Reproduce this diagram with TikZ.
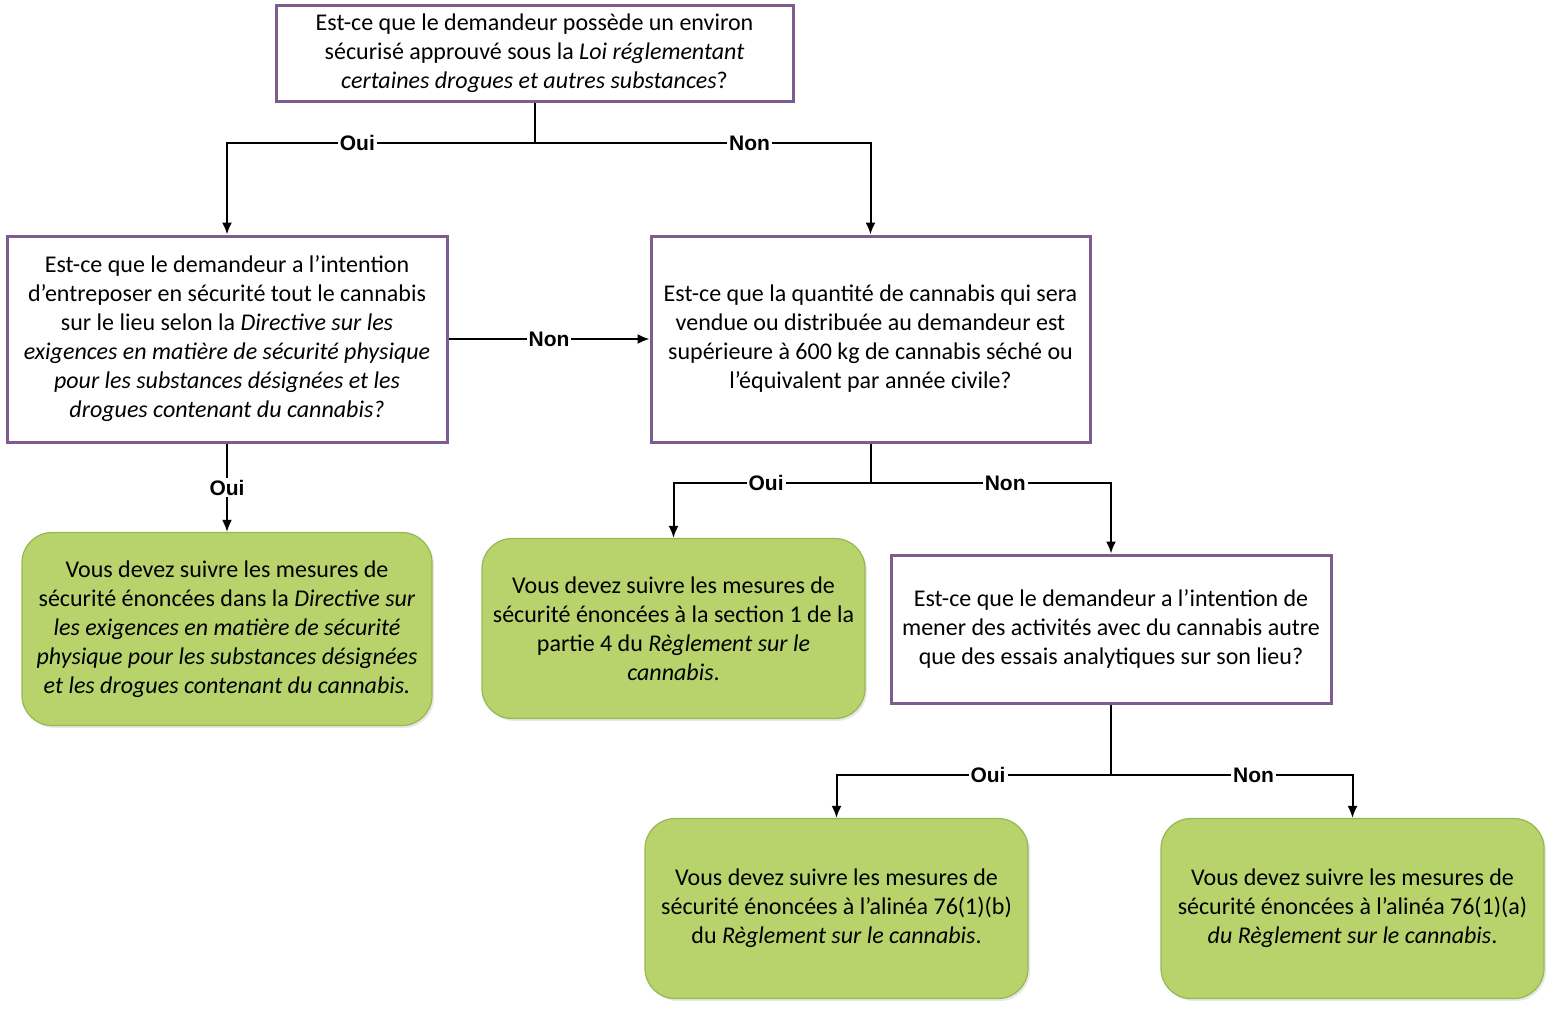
\documentclass[tikz,border=0pt]{standalone}
\usepackage{fontspec}
\setmainfont{Carlito}
\setsansfont{Liberation Sans}
\usetikzlibrary{arrows, arrows.meta, shadows, positioning}
\definecolor{qpurple}{RGB}{126,92,144}
\definecolor{mgreen}{RGB}{184,211,108}
\definecolor{mgreenedge}{RGB}{150,184,82}
\tikzset{
  question/.style={draw=qpurple, line width=1.5pt, fill=white, align=center, inner sep=0pt,
    font=\fontsize{12}{14.5}\selectfont,
    drop shadow={shadow xshift=1pt, shadow yshift=-1.2pt, opacity=0.18}},
  measure/.style={draw=mgreenedge, line width=0.6pt, fill=mgreen, rounded corners=15pt, align=center, inner sep=0pt,
    font=\fontsize{12}{14.5}\selectfont,
    drop shadow={shadow xshift=1pt, shadow yshift=-1.2pt, opacity=0.18}},
  answer/.style={fill=white, inner sep=1pt, font=\sffamily\bfseries\fontsize{10.5}{12}\selectfont},
}

\begin{document}
\begin{tikzpicture}[>={Latex[length=6pt,width=5pt]}, x=0.5pt, y=-0.5pt, line width=1pt]
        \useasboundingbox (0,0) rectangle (1552,1009);
        \node[question, minimum width=258.5pt, minimum height=48pt] (q1) at (534.5,53)
          {Est-ce que le demandeur possède un environ\\ sécurisé approuvé sous la \textit{Loi réglementant}\\ \textit{certaines drogues et autres substances}?};
        \node[question, minimum width=220pt, minimum height=103pt] (q2) at (227,339)
          {Est-ce que le demandeur a l’intention\\ d’entreposer en sécurité tout le cannabis\\ sur le lieu selon la \textit{Directive sur les}\\ \textit{exigences en matière de sécurité physique}\\ \textit{pour les substances désignées et les}\\ \textit{drogues contenant du cannabis?}};
        \node[question, minimum width=219.5pt, minimum height=103pt] (q3) at (870.5,339)
          {Est-ce que la quantité de cannabis qui sera\\ vendue ou distribuée au demandeur est\\ supérieure à 600 kg de cannabis séché ou\\ l’équivalent par année civile?};
        \node[question, minimum width=220pt, minimum height=74pt] (q4) at (1111,629)
          {Est-ce que le demandeur a l’intention de\\ mener des activités avec du cannabis autre\\ que des essais analytiques sur son lieu?};
        \node[measure, minimum width=205pt, minimum height=96.5pt] (m1) at (227,629)
          {Vous devez suivre les mesures de\\ sécurité énoncées dans la \textit{Directive sur}\\ \textit{les exigences en matière de sécurité}\\ \textit{physique pour les substances désignées}\\ \textit{et les drogues contenant du cannabis.}};
        \node[measure, minimum width=191.5pt, minimum height=90pt] (m2) at (673.5,628.5)
          {Vous devez suivre les mesures de\\ sécurité énoncées à la section 1 de la\\ partie 4 du \textit{Règlement sur le}\\ \textit{cannabis}.};
        \node[measure, minimum width=191.5pt, minimum height=90pt] (m3) at (836.5,908.5)
          {Vous devez suivre les mesures de\\ sécurité énoncées à l’alinéa 76(1)(b)\\ du \textit{Règlement sur le cannabis}.};
        \node[measure, minimum width=191.5pt, minimum height=90pt] (m4) at (1352.5,908.5)
          {Vous devez suivre les mesures de\\ sécurité énoncées à l’alinéa 76(1)(a)\\ \textit{du Règlement sur le cannabis}.};
        \coordinate (j1) at (534.5,143);
        \coordinate (j2) at (870.5,483);
        \coordinate (j3) at (1111,775);
        \draw (q1) -- (j1);
        \draw (q3) -- (j2);
        \draw (q4) -- (j3);
        \draw[->] (j1) -| node[answer, pos=0.288] {Oui} (q2);
        \draw[->] (j1) -| node[answer, pos=0.32] {Non} (q3);
        \draw[->] (q2) -- node[answer] {Non} (q3);
        \draw[->] (q2) -- node[answer] {Oui} (m1);
        \draw[->] (j2) -| node[answer, pos=0.265] {Oui} (m2);
        \draw[->] (j2) -| node[answer, pos=0.28] {Non} (q4);
        \draw[->] (j3) -| node[answer, pos=0.224] {Oui} (m3);
        \draw[->] (j3) -| node[answer, pos=0.295] {Non} (m4);
    \end{tikzpicture}
\end{document}
